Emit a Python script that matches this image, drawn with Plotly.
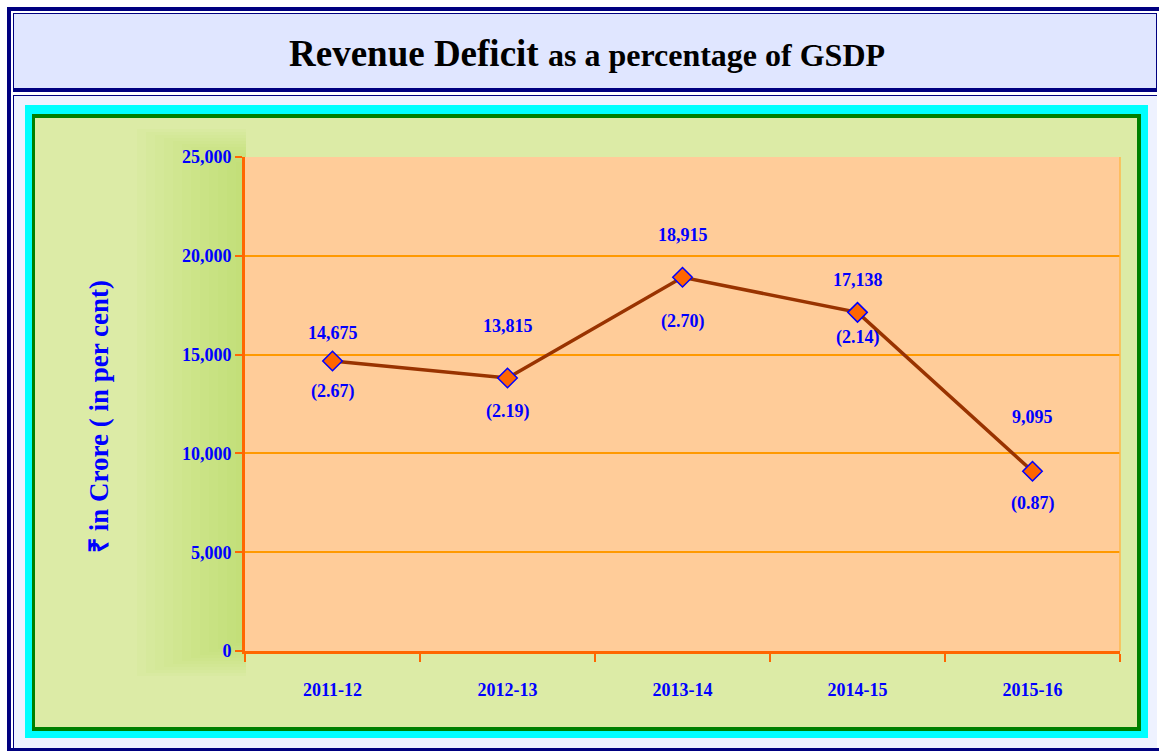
import plotly.graph_objects as go

years = ["2011-12", "2012-13", "2013-14", "2014-15", "2015-16"]
revenue_deficit = [14675, 13815, 18915, 17138, 9095]
pct_gsdp = [2.67, 2.19, 2.70, 2.14, 0.87]
y_ticks = [0, 5000, 10000, 15000, 20000, 25000]

W, H = 1159, 751
def px(x): return x / W
def py(y): return 1 - y / H

BLUE = "#0000FF"
FONT = "Liberation Serif, Times New Roman, serif"

fig = go.Figure()
fig.add_trace(go.Scatter(
    x=years, y=revenue_deficit, mode="lines+markers",
    line=dict(color="#993300", width=3.5),
    marker=dict(symbol="diamond", size=15, color="#FF6600", line=dict(color=BLUE, width=1.5)),
    hoverinfo="skip", showlegend=False))

shapes = []
def rect(x0, y0, x1, y1, fill, opacity=1):
    shapes.append(dict(type="rect", xref="paper", yref="paper", layer="below",
                       x0=px(x0), x1=px(x1), y0=py(y1), y1=py(y0), opacity=opacity,
                       fillcolor=fill, line=dict(width=0)))

rect(7, 7, 1159, 751, "#000080")
rect(11, 11, 1159, 748, "#FFFFFF")
rect(13, 13, 1157, 92, "#000080")
rect(14, 14, 1156, 88, "#E0E6FF")
rect(13, 95, 1157, 748, "#000080")
rect(14, 96, 1157, 748, "#EEF2FF")
rect(25, 105, 1148, 738, "#00FFFF")
rect(32, 114, 1141, 731, "#008000")
rect(35, 118, 1137, 727, "#DCEBA6")
# soft darker glow on the left side of the plot area (gradient imitation)
for k in range(12):
    rect(245 - 9 * (k + 1), 165 - 3 * (k + 1), 246, 640 + 3 * (k + 1), "#B5D256", 0.05)
# plot area fill
shapes.append(dict(type="rect", xref="x domain", yref="y domain", layer="below",
                   x0=0, x1=1, y0=0, y1=1, fillcolor="#FFCC99", line=dict(width=0)))
# right border of plot area
shapes.append(dict(type="line", xref="x domain", yref="y domain", layer="above",
                   x0=1, x1=1, y0=0, y1=1, line=dict(color="#FFB84D", width=1.5)))

annotations = [
    dict(xref="paper", yref="paper", x=px(587), y=py(53), xanchor="center", yanchor="middle",
         showarrow=False,
         text="<b>Revenue Deficit</b> <b><span style='font-size:32px'>as a percentage of GSDP</span></b>",
         font=dict(family=FONT, size=37, color="#000000")),
    dict(xref="paper", yref="paper", x=px(99), y=py(417), xanchor="center", yanchor="middle",
         showarrow=False, textangle=-90,
         text="<b>₹ in Crore ( in per cent)</b>",
         font=dict(family=FONT, size=27, color=BLUE)),
]
up_shift = [28, 52, 42, 32, 54]
down_shift = [-30, -33, -44, -25, -32]
for i, (yr, v, p) in enumerate(zip(years, revenue_deficit, pct_gsdp)):
    annotations.append(dict(x=yr, y=v, text=f"<b>{v:,}</b>", showarrow=False,
                            yshift=up_shift[i], font=dict(family=FONT, size=18, color=BLUE)))
    annotations.append(dict(x=yr, y=v, text=f"<b>({p:.2f})</b>", showarrow=False,
                            yshift=down_shift[i], font=dict(family=FONT, size=18, color=BLUE)))

fig.update_layout(
    width=W, height=H, margin=dict(l=0, r=0, t=0, b=0, pad=0, autoexpand=False),
    paper_bgcolor="#FFFFFF", plot_bgcolor="#FFCC99",
    shapes=shapes, annotations=annotations,
    xaxis=dict(domain=[px(245), px(1120)], range=[-0.5, 4.5], type="category",
               tickson="boundaries", ticks="outside", ticklen=8, tickwidth=2, tickcolor="#FF6600",
               showline=True, linecolor="#FF6600", linewidth=3, showgrid=False,
               ticklabelstandoff=20, automargin=False,
               tickfont=dict(family=FONT, size=18, color=BLUE, weight="bold")),
    yaxis=dict(domain=[py(651), py(157)], range=[0, 25000], tickvals=y_ticks,
               tickformat=",", ticks="outside", ticklen=7, tickwidth=2, tickcolor="#FF6600",
               showline=True, linecolor="#FF6600", linewidth=3, automargin=False,
               showgrid=True, gridcolor="#FF9900", gridwidth=1.5, zeroline=False,
               tickfont=dict(family=FONT, size=18, color=BLUE, weight="bold")),
)

fig.write_html("out.html", config={"displayModeBar": False},
               post_script="document.body.style.margin='0';document.body.style.overflow='hidden';")
